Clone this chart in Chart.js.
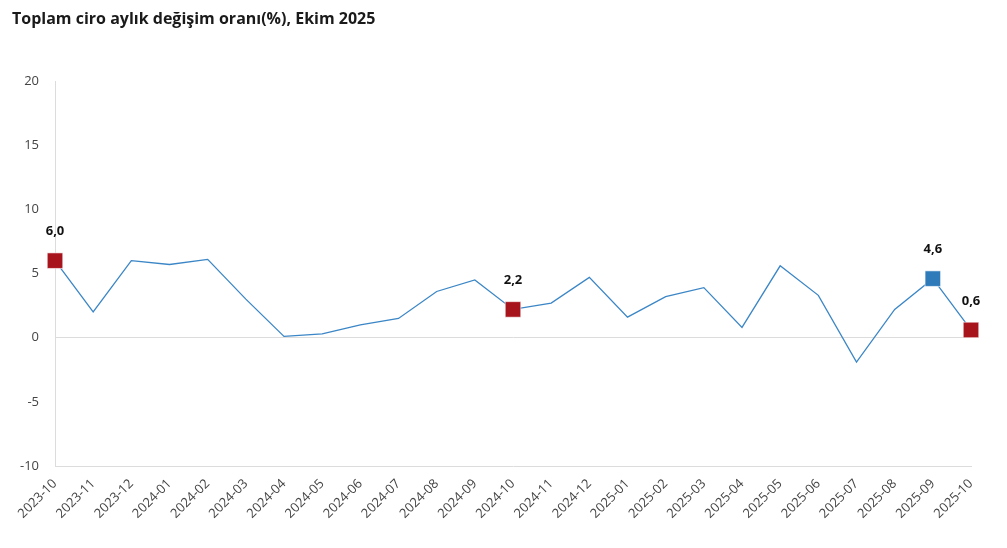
<!DOCTYPE html>
<html>
<head>
<meta charset="utf-8">
<script src="https://cdn.jsdelivr.net/npm/chart.js@4"></script>
<style>
  html, body { margin: 0; padding: 0; background: #fff; }
  #wrap { width: 1007px; height: 548px; position: relative; }
</style>
</head>
<body>
<div id="wrap"><canvas id="ciroChart"></canvas></div>
<script>
const months = ['2023-10', '2023-11', '2023-12', '2024-01', '2024-02', '2024-03', '2024-04', '2024-05',
    '2024-06', '2024-07', '2024-08', '2024-09', '2024-10', '2024-11', '2024-12', '2025-01', '2025-02',
    '2025-03', '2025-04', '2025-05', '2025-06', '2025-07', '2025-08', '2025-09', '2025-10'];
const changeRate = [6.0, 2.0, 6.0, 5.7, 6.1, 3.0, 0.1, 0.3, 1.0, 1.5, 3.6, 4.5, 2.2, 2.7, 4.7, 1.6,
    3.2, 3.9, 0.8, 5.6, 3.3, -1.9, 2.2, 4.6, 0.6];
const redPoints = [0, 12, 24];
const bluePoints = [23];
const yTicks = [20, 15, 10, 5, 0, -5, -10];

const lineBlue = '#3B86C6';
const markRed = '#A8141C';
const markBlue = '#2F7BBA';

const titlePlugin = {
    id: 'topTitle',
    afterDraw(chart) {
        const ctx = chart.ctx;
        ctx.save();
        ctx.font = 'bold 16px "Open Sans", "Noto Sans", sans-serif';
        ctx.fillStyle = '#1a1a1a';
        ctx.textBaseline = 'middle';
        ctx.fillText('Toplam ciro aylık değişim oranı(%), Ekim 2025', 12, 19);
        ctx.restore();
    }
};

const valueLabels = {
    id: 'valueLabels',
    afterDatasetsDraw(chart) {
        const ctx = chart.ctx;
        const meta = chart.getDatasetMeta(0);
        ctx.save();
        ctx.font = 'bold 13px "Open Sans", "Noto Sans", sans-serif';
        ctx.fillStyle = '#111';
        ctx.textAlign = 'center';
        ctx.textBaseline = 'middle';
        redPoints.concat(bluePoints).forEach(i => {
            const pt = meta.data[i];
            ctx.fillText(changeRate[i].toFixed(1).replace('.', ','), pt.x, pt.y - 29);
        });
        ctx.restore();
    }
};

function markColor(i) {
    if (redPoints.includes(i)) return markRed;
    if (bluePoints.includes(i)) return markBlue;
    return lineBlue;
}

const ctx = document.getElementById('ciroChart').getContext('2d');
new Chart(ctx, {
    type: 'line',
    data: {
        labels: months,
        datasets: [{
            data: changeRate,
            borderColor: lineBlue,
            borderWidth: 1.3,
            tension: 0,
            fill: false,
            pointStyle: 'rect',
            pointRadius: months.map((m, i) => (redPoints.includes(i) || bluePoints.includes(i)) ? 11 : 0),
            pointBackgroundColor: months.map((m, i) => markColor(i)),
            pointBorderColor: 'rgba(255,255,255,0.6)',
            pointBorderWidth: 1
        }]
    },
    options: {
        responsive: true,
        maintainAspectRatio: false,
        animation: false,
        layout: { padding: { top: 81, right: 36, left: 0, bottom: 0 } },
        plugins: {
            legend: { display: false },
            tooltip: { enabled: false }
        },
        scales: {
            x: {
                offset: false,
                afterFit(scale) { scale.height = 82; },
                grid: { display: false, drawTicks: false },
                border: { display: true, color: '#dcdcdc', width: 1 },
                ticks: {
                    autoSkip: false,
                    maxRotation: 45,
                    minRotation: 45,
                    padding: 10,
                    color: '#444',
                    font: { size: 13, family: '"Open Sans", "Noto Sans", sans-serif' }
                }
            },
            y: {
                min: -10,
                max: 20,
                afterFit(scale) { scale.width = 55; },
                afterBuildTicks(scale) { scale.ticks = yTicks.map(v => ({ value: v })); },
                grid: {
                    drawTicks: false,
                    color: c => c.tick && c.tick.value === 0 ? '#dcdcdc' : 'rgba(0,0,0,0)'
                },
                border: { display: true, color: '#dcdcdc', width: 1 },
                ticks: {
                    padding: 16,
                    color: '#444',
                    font: { size: 13, family: '"Open Sans", "Noto Sans", sans-serif' }
                }
            }
        }
    },
    plugins: [titlePlugin, valueLabels]
});
</script>
</body>
</html>
